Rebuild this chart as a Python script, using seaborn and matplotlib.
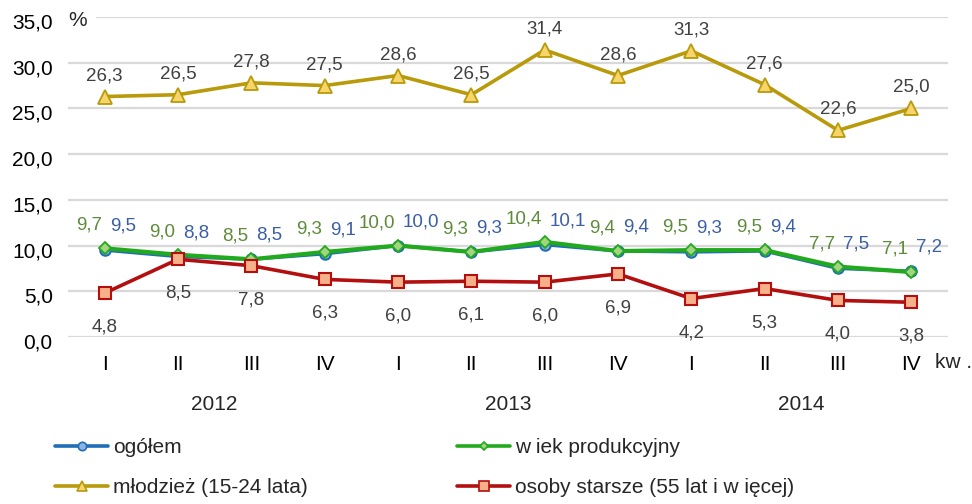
import matplotlib
matplotlib.use("Agg")
import matplotlib.pyplot as plt
from matplotlib.lines import Line2D
from matplotlib.transforms import ScaledTranslation, blended_transform_factory
import seaborn as sns
import pandas as pd
import numpy as np

# ---- data ----
quarters = ["I", "II", "III", "IV", "I", "II", "III", "IV", "I", "II", "III", "IV"]
years = ["2012", "2013", "2014"]
ogolem = [9.5, 8.8, 8.5, 9.1, 10.0, 9.3, 10.1, 9.4, 9.3, 9.4, 7.5, 7.2]
wiek_prod = [9.7, 9.0, 8.5, 9.3, 10.0, 9.3, 10.4, 9.4, 9.5, 9.5, 7.7, 7.1]
mlodziez = [26.3, 26.5, 27.8, 27.5, 28.6, 26.5, 31.4, 28.6, 31.3, 27.6, 22.6, 25.0]
starsze = [4.8, 8.5, 7.8, 6.3, 6.0, 6.1, 6.0, 6.9, 4.2, 5.3, 4.0, 3.8]
yticks = [0, 5, 10, 15, 20, 25, 30, 35]
names = ["ogółem", "w iek produkcyjny", "młodzież (15-24 lata)", "osoby starsze (55 lat i w ięcej)"]

sns.set_theme(style="white")
plt.rcParams["font.family"] = ["Liberation Sans", "DejaVu Sans"]

W, H, DPI = 972, 504, 100
fig = plt.figure(figsize=(W / DPI, H / DPI), dpi=DPI)
L, R, T, B = 68, 948, 17, 337
ax = fig.add_axes([L / W, 1 - B / H, (R - L) / W, (B - T) / H])

x = np.arange(len(quarters))
df = pd.DataFrame({"x": x, "ogolem": ogolem, "wiek": wiek_prod, "mlodziez": mlodziez, "starsze": starsze})

c_blue, f_blue = "#1E6EB8", "#8EB4E3"
c_green, f_green = "#22AA1E", "#A3D47F"
c_yel, f_yel = "#B89A0A", "#F8D56B"
c_red, f_red = "#B40F0F", "#F6B08A"

# gridlines
for yv in yticks:
    if yv == 35:
        ax.axhline(yv, xmin=(97 - L) / (R - L), xmax=1, color="#D9D9D9", lw=1.6, zorder=0)
    else:
        ax.axhline(yv, color="#D9D9D9", lw=1.6, zorder=0)

sns.lineplot(data=df, x="x", y="mlodziez", ax=ax, color=c_yel, lw=2.6, marker="^", markersize=10,
             markerfacecolor=f_yel, markeredgecolor=c_yel, markeredgewidth=1.3, zorder=3)
sns.lineplot(data=df, x="x", y="ogolem", ax=ax, color=c_blue, lw=2.4, marker="o", markersize=7.5,
             markerfacecolor=f_blue, markeredgecolor=c_blue, markeredgewidth=1.5, zorder=4)
sns.lineplot(data=df, x="x", y="wiek", ax=ax, color=c_green, lw=3.0, marker="D", markersize=6.5,
             markerfacecolor=f_green, markeredgecolor=c_green, markeredgewidth=1.3, zorder=5)
sns.lineplot(data=df, x="x", y="starsze", ax=ax, color=c_red, lw=2.6, marker="s", markersize=9,
             markerfacecolor=f_red, markeredgecolor=c_red, markeredgewidth=1.5, zorder=6)

ax.set_xlim(-0.5, len(quarters) - 0.5)
ax.set_ylim(0, 35)
ax.set_xlabel("")
ax.set_ylabel("")
for s in ax.spines.values():
    s.set_visible(False)

fmt = lambda v: f"{v:.1f}".replace(".", ",")
ax.set_yticks(yticks)
ax.set_yticklabels([fmt(v) for v in yticks], fontsize=15, color="#000000")
ax.tick_params(axis="y", length=0, pad=11)
for lab in ax.get_yticklabels():
    lab.set_transform(lab.get_transform() + ScaledTranslation(0, -4 / DPI, fig.dpi_scale_trans))
ax.set_xticks(x)
ax.set_xticklabels(quarters, fontsize=15, color="#000000")
ax.tick_params(axis="x", length=0, pad=13)

pt = 72 / DPI
lab_fs = 13.5
for i in x:
    ax.annotate(fmt(mlodziez[i]), (i, mlodziez[i]), xytext=(0, 21 * pt), textcoords="offset points",
                ha="center", va="center", fontsize=lab_fs, color="#404040", zorder=7)
    ax.annotate(fmt(wiek_prod[i]), (i, wiek_prod[i]), xytext=(-3 * pt, 23 * pt), textcoords="offset points",
                ha="right", va="center", fontsize=lab_fs, color="#5E8B3A", zorder=7)
    ax.annotate(fmt(ogolem[i]), (i, ogolem[i]), xytext=(5 * pt, 24 * pt), textcoords="offset points",
                ha="left", va="center", fontsize=lab_fs, color="#3B5FA3", zorder=7)
    ax.annotate(fmt(starsze[i]), (i, starsze[i]), xytext=(0, -34 * pt), textcoords="offset points",
                ha="center", va="center", fontsize=lab_fs, color="#404040", zorder=7)

# year labels
tr = blended_transform_factory(ax.transData, ax.transAxes)
for k, yr in enumerate(years):
    ax.text(4 * k + 1.5, -(405 - B) / (B - T), yr, transform=tr, ha="center", va="center", fontsize=15)

fig.text(68 / W, 1 - 21 / H, "%", ha="left", va="center", fontsize=15)
fig.text(935 / W, 1 - 363 / H, "kw .", ha="left", va="center", fontsize=15)

# legend
def handle(c, f, m, ms):
    return Line2D([0], [0], color=c, lw=2.6, marker=m, markersize=ms, markerfacecolor=f,
                  markeredgecolor=c, markeredgewidth=1.2)

h_blue = handle(c_blue, f_blue, "o", 6)
h_green = handle(c_green, f_green, "D", 4.5)
h_yel = handle(c_yel, f_yel, "^", 6.5)
h_red = handle(c_red, f_red, "s", 6.5)
leg_kw = dict(loc="upper left", frameon=False, fontsize=15, handlelength=2.55, handletextpad=0.25,
              labelspacing=1.02, borderpad=0, borderaxespad=0)
fig.legend([h_blue, h_yel], [names[0], names[2]], bbox_to_anchor=(55 / W, 1 - 438 / H), **leg_kw)
fig.legend([h_green, h_red], [names[1], names[3]], bbox_to_anchor=(457 / W, 1 - 438 / H), **leg_kw)

fig.savefig("out.png", dpi=DPI)
